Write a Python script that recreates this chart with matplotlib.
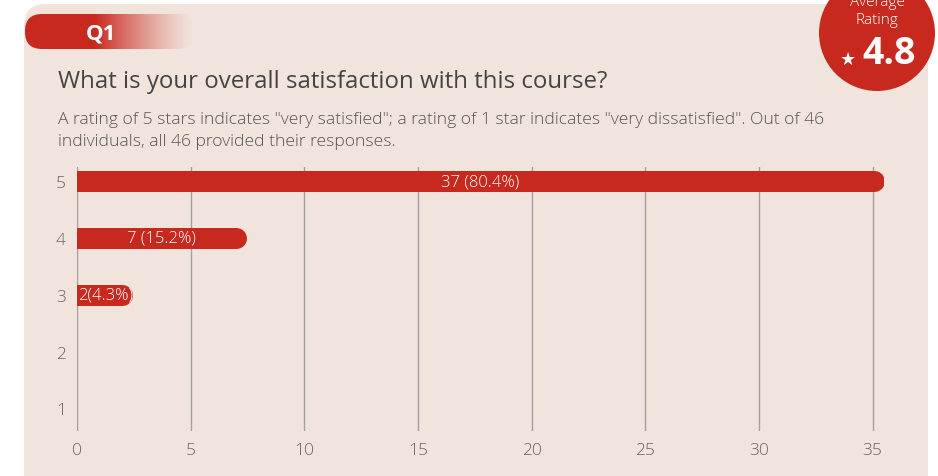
import matplotlib
matplotlib.use("Agg")
import matplotlib.pyplot as plt
import numpy as np
from matplotlib.patches import FancyBboxPatch, Circle

# ---------------------------------------------------------------- data
ratings = [5, 4, 3, 2, 1]
counts = [37, 7, 2, 0, 0]
pct_labels = ["37 (80.4%)", "7 (15.2%)", "2(4.3%)", "", ""]
x_ticks = [0, 5, 10, 15, 20, 25, 30, 35]
question_no = "Q1"
title = "What is your overall satisfaction with this course?"
subtitle = ('A rating of 5 stars indicates "very satisfied"; a rating of 1 star indicates '
            '"very dissatisfied". Out of 46\nindividuals, all 46 provided their responses.')
avg_rating = 4.8

RED = "#c8291e"
CARD = "#f1e4dd"
FONT = ["Open Sans", "DejaVu Sans"]
plt.rcParams["font.family"] = FONT

W, H = 938, 477
fig = plt.figure(figsize=(W / 100, H / 100), dpi=100)
fig.patch.set_facecolor("white")

# background layer in pixel coordinates
bg = fig.add_axes([0, 0, 1, 1])
bg.set_xlim(0, W); bg.set_ylim(H, 0); bg.axis("off")
bg.add_patch(FancyBboxPatch((24, 5), 904, 500, boxstyle="round,pad=0,rounding_size=22",
                            fc=CARD, ec="none"))

# Q1 pill with fading gradient
pill = FancyBboxPatch((25, 15), 170, 35, boxstyle="round,pad=0,rounding_size=17",
                      fc="none", ec="none")
bg.add_patch(pill)
grad = np.ones((2, 200, 4))
grad[..., :3] = matplotlib.colors.to_rgb(RED)
xs = np.linspace(25, 195, 200)
grad[..., 3] = np.clip(1 - (xs - 95) / 100, 0, 1) ** 1.3
im = bg.imshow(grad, extent=(25, 195, 50, 15), aspect="auto", zorder=2)
im.set_clip_path(pill)
bg.text(101, 34, question_no, color="white", fontsize=16, fontweight="bold",
        ha="center", va="center", zorder=3)

# average rating badge
bg.add_patch(Circle((877, 34), 58, fc=RED, ec="none", zorder=2))
bg.text(877, 3, "Average", color="white", fontsize=11, ha="center", va="center",
        fontweight="light", zorder=3)
bg.text(877, 20, "Rating", color="white", fontsize=11, ha="center", va="center",
        fontweight="light", zorder=3)
bg.text(848, 60, "\u2605", color="white", fontsize=13, ha="center", va="center",
        family="DejaVu Sans", zorder=3)
bg.text(889, 54, f"{avg_rating}", color="white", fontsize=27, fontweight="bold",
        ha="center", va="center", zorder=3)

# titles
bg.text(58, 82, title, color="#444444", fontsize=17.3, ha="left", va="center")
bg.text(58, 131, subtitle, color="#555555", fontsize=12.6, ha="left", va="center",
        linespacing=1.5, fontweight="light")

# ---------------------------------------------------------------- bar chart
XMAX = 35.5
ax = fig.add_axes([77 / W, 1 - 432 / H, (884 - 77) / W, (432 - 168) / H])
ax.set_facecolor("none")
ax.set_xlim(0, XMAX)
ax.set_ylim(0.6, 5.25)
bar_pt = 21 * 72 / 100
cap = 10.5 / ((884 - 77) / XMAX)
for r, c, lab in zip(ratings, counts, pct_labels):
    if c <= 0:
        continue
    end = min(c, XMAX - cap)
    ax.plot([0, end], [r, r], color=RED, lw=bar_pt, solid_capstyle="round", zorder=3)
    if lab:
        if c < 3:
            ax.text(0.05, r, lab, color="white", fontsize=12, ha="left",
                    va="center", fontweight="light", zorder=4)
        else:
            ax.text((end + cap) / 2, r, lab, color="white", fontsize=12,
                    ha="center", va="center", fontweight="light", zorder=4)

for x in x_ticks:
    ax.axvline(x, color="#a0a0a0", lw=1, zorder=1)
ax.set_xticks(x_ticks)
ax.set_yticks(ratings)
ax.tick_params(length=0, labelsize=12.5, colors="#666666", pad=8)
for lbl in ax.get_xticklabels() + ax.get_yticklabels():
    lbl.set_fontweight("light")
for s in ax.spines.values():
    s.set_visible(False)

fig.savefig("out.png", dpi=100)
